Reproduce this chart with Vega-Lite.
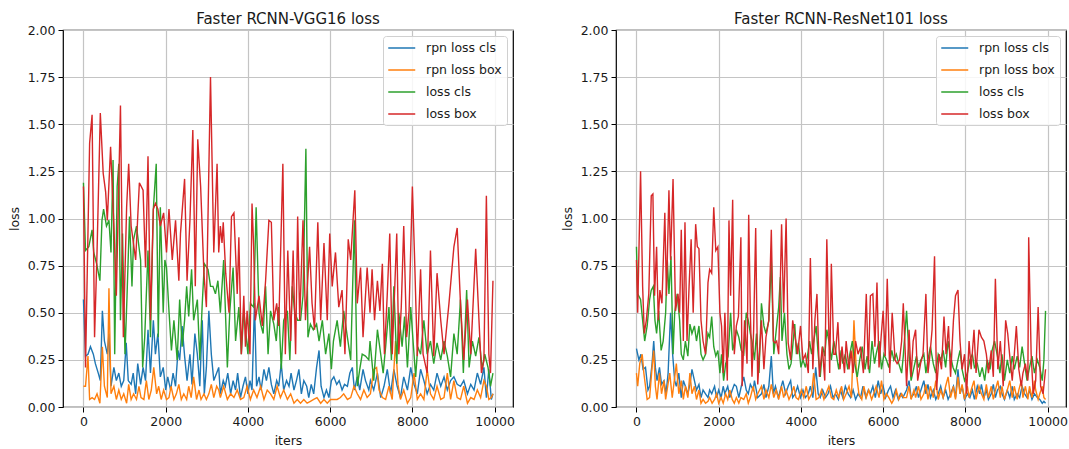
{
"$schema": "https://vega.github.io/schema/vega-lite/v6.json",
"padding": {"left": 7, "top": 11, "right": 0, "bottom": 0},
"background": "white",
"datasets": {
"a1": [{"i":0,"v":0.57},{"i":50,"v":0.27},{"i":110,"v":0.28},{"i":170,"v":0.32},{"i":240,"v":0.28},{"i":290,"v":0.23},{"i":360,"v":0.18},{"i":410,"v":0.14},{"i":460,"v":0.51},{"i":510,"v":0.35},{"i":580,"v":0.28},{"i":620,"v":0.39},{"i":670,"v":0.11},{"i":740,"v":0.21},{"i":800,"v":0.14},{"i":860,"v":0.18},{"i":920,"v":0.11},{"i":980,"v":0.14},{"i":1040,"v":0.34},{"i":1090,"v":0.14},{"i":1160,"v":0.12},{"i":1210,"v":0.18},{"i":1270,"v":0.07},{"i":1320,"v":0.23},{"i":1390,"v":0.12},{"i":1450,"v":0.21},{"i":1510,"v":0.14},{"i":1570,"v":0.41},{"i":1630,"v":0.18},{"i":1700,"v":0.46},{"i":1750,"v":0.28},{"i":1810,"v":0.39},{"i":1870,"v":0.16},{"i":1940,"v":0.21},{"i":2000,"v":0.09},{"i":2050,"v":0.16},{"i":2120,"v":0.09},{"i":2180,"v":0.18},{"i":2240,"v":0.11},{"i":2300,"v":0.3},{"i":2340,"v":0.25},{"i":2400,"v":0.43},{"i":2460,"v":0.27},{"i":2520,"v":0.14},{"i":2590,"v":0.28},{"i":2640,"v":0.12},{"i":2710,"v":0.39},{"i":2770,"v":0.28},{"i":2830,"v":0.11},{"i":2890,"v":0.46},{"i":2940,"v":0.07},{"i":2990,"v":0.21},{"i":3050,"v":0.51},{"i":3110,"v":0.28},{"i":3170,"v":0.14},{"i":3240,"v":0.18},{"i":3290,"v":0.21},{"i":3330,"v":0.07},{"i":3400,"v":0.14},{"i":3450,"v":0.11},{"i":3510,"v":0.18},{"i":3580,"v":0.07},{"i":3640,"v":0.14},{"i":3700,"v":0.09},{"i":3750,"v":0.18},{"i":3820,"v":0.05},{"i":3880,"v":0.11},{"i":3940,"v":0.16},{"i":4000,"v":0.07},{"i":4050,"v":0.14},{"i":4100,"v":0.09},{"i":4160,"v":0.55},{"i":4210,"v":0.11},{"i":4270,"v":0.16},{"i":4320,"v":0.09},{"i":4390,"v":0.2},{"i":4450,"v":0.14},{"i":4510,"v":0.21},{"i":4570,"v":0.12},{"i":4630,"v":0.07},{"i":4700,"v":0.14},{"i":4750,"v":0.11},{"i":4810,"v":0.23},{"i":4870,"v":0.09},{"i":4940,"v":0.14},{"i":5000,"v":0.11},{"i":5050,"v":0.18},{"i":5120,"v":0.09},{"i":5180,"v":0.14},{"i":5240,"v":0.2},{"i":5300,"v":0.07},{"i":5360,"v":0.14},{"i":5430,"v":0.11},{"i":5480,"v":0.05},{"i":5540,"v":0.12},{"i":5600,"v":0.07},{"i":5670,"v":0.21},{"i":5730,"v":0.3},{"i":5780,"v":0.11},{"i":5850,"v":0.05},{"i":5910,"v":0.09},{"i":5970,"v":0.05},{"i":6030,"v":0.14},{"i":6090,"v":0.16},{"i":6160,"v":0.12},{"i":6220,"v":0.14},{"i":6290,"v":0.09},{"i":6350,"v":0.12},{"i":6420,"v":0.11},{"i":6480,"v":0.18},{"i":6540,"v":0.21},{"i":6590,"v":0.09},{"i":6660,"v":0.16},{"i":6720,"v":0.09},{"i":6800,"v":0.2},{"i":6860,"v":0.14},{"i":6940,"v":0.09},{"i":6980,"v":0.14},{"i":7060,"v":0.09},{"i":7150,"v":0.18},{"i":7230,"v":0.05},{"i":7310,"v":0.11},{"i":7390,"v":0.2},{"i":7470,"v":0.07},{"i":7550,"v":0.2},{"i":7630,"v":0.11},{"i":7710,"v":0.05},{"i":7790,"v":0.16},{"i":7880,"v":0.09},{"i":7960,"v":0.21},{"i":8040,"v":0.12},{"i":8120,"v":0.07},{"i":8200,"v":0.2},{"i":8280,"v":0.14},{"i":8360,"v":0.07},{"i":8440,"v":0.12},{"i":8520,"v":0.09},{"i":8600,"v":0.18},{"i":8690,"v":0.11},{"i":8770,"v":0.16},{"i":8850,"v":0.09},{"i":8930,"v":0.14},{"i":9010,"v":0.16},{"i":9090,"v":0.12},{"i":9170,"v":0.11},{"i":9250,"v":0.14},{"i":9340,"v":0.07},{"i":9420,"v":0.12},{"i":9500,"v":0.09},{"i":9580,"v":0.18},{"i":9660,"v":0.12},{"i":9740,"v":0.21},{"i":9800,"v":0.05},{"i":9860,"v":0.2},{"i":9920,"v":0.04},{"i":9960,"v":0.07}],
"a2": [{"i":0,"v":0.11},{"i":50,"v":0.11},{"i":110,"v":0.27},{"i":150,"v":0.04},{"i":210,"v":0.05},{"i":270,"v":0.04},{"i":330,"v":0.07},{"i":400,"v":0.02},{"i":460,"v":0.32},{"i":510,"v":0.11},{"i":580,"v":0.05},{"i":620,"v":0.63},{"i":670,"v":0.07},{"i":740,"v":0.11},{"i":800,"v":0.04},{"i":860,"v":0.09},{"i":920,"v":0.04},{"i":980,"v":0.07},{"i":1050,"v":0.02},{"i":1100,"v":0.12},{"i":1160,"v":0.04},{"i":1220,"v":0.07},{"i":1290,"v":0.04},{"i":1350,"v":0.11},{"i":1400,"v":0.05},{"i":1470,"v":0.04},{"i":1530,"v":0.14},{"i":1590,"v":0.04},{"i":1650,"v":0.09},{"i":1710,"v":0.21},{"i":1780,"v":0.07},{"i":1830,"v":0.11},{"i":1890,"v":0.04},{"i":1950,"v":0.09},{"i":2020,"v":0.04},{"i":2080,"v":0.05},{"i":2130,"v":0.11},{"i":2200,"v":0.04},{"i":2260,"v":0.07},{"i":2320,"v":0.12},{"i":2380,"v":0.04},{"i":2440,"v":0.07},{"i":2510,"v":0.04},{"i":2560,"v":0.11},{"i":2620,"v":0.05},{"i":2680,"v":0.16},{"i":2750,"v":0.04},{"i":2810,"v":0.09},{"i":2860,"v":0.04},{"i":2930,"v":0.07},{"i":2990,"v":0.04},{"i":3050,"v":0.07},{"i":3110,"v":0.12},{"i":3170,"v":0.05},{"i":3240,"v":0.11},{"i":3290,"v":0.09},{"i":3330,"v":0.05},{"i":3410,"v":0.11},{"i":3500,"v":0.04},{"i":3580,"v":0.07},{"i":3660,"v":0.05},{"i":3740,"v":0.09},{"i":3820,"v":0.04},{"i":3900,"v":0.05},{"i":3980,"v":0.11},{"i":4060,"v":0.04},{"i":4140,"v":0.09},{"i":4220,"v":0.05},{"i":4310,"v":0.11},{"i":4390,"v":0.04},{"i":4470,"v":0.09},{"i":4550,"v":0.07},{"i":4630,"v":0.04},{"i":4710,"v":0.11},{"i":4790,"v":0.05},{"i":4870,"v":0.09},{"i":4960,"v":0.04},{"i":5040,"v":0.07},{"i":5120,"v":0.02},{"i":5200,"v":0.04},{"i":5280,"v":0.02},{"i":5360,"v":0.04},{"i":5440,"v":0.02},{"i":5520,"v":0.03},{"i":5600,"v":0.04},{"i":5680,"v":0.05},{"i":5770,"v":0.02},{"i":5850,"v":0.04},{"i":5930,"v":0.02},{"i":6010,"v":0.04},{"i":6090,"v":0.04},{"i":6170,"v":0.04},{"i":6250,"v":0.05},{"i":6330,"v":0.07},{"i":6420,"v":0.04},{"i":6500,"v":0.05},{"i":6580,"v":0.11},{"i":6660,"v":0.07},{"i":6740,"v":0.04},{"i":6820,"v":0.09},{"i":6900,"v":0.05},{"i":6980,"v":0.07},{"i":7060,"v":0.2},{"i":7130,"v":0.21},{"i":7190,"v":0.09},{"i":7270,"v":0.05},{"i":7350,"v":0.04},{"i":7430,"v":0.11},{"i":7510,"v":0.04},{"i":7590,"v":0.35},{"i":7650,"v":0.12},{"i":7710,"v":0.04},{"i":7790,"v":0.09},{"i":7880,"v":0.02},{"i":7960,"v":0.05},{"i":8040,"v":0.18},{"i":8120,"v":0.04},{"i":8200,"v":0.07},{"i":8280,"v":0.04},{"i":8360,"v":0.2},{"i":8440,"v":0.07},{"i":8520,"v":0.04},{"i":8600,"v":0.11},{"i":8690,"v":0.04},{"i":8770,"v":0.05},{"i":8850,"v":0.18},{"i":8930,"v":0.04},{"i":9010,"v":0.14},{"i":9090,"v":0.05},{"i":9170,"v":0.04},{"i":9250,"v":0.11},{"i":9340,"v":0.02},{"i":9420,"v":0.05},{"i":9500,"v":0.04},{"i":9580,"v":0.09},{"i":9660,"v":0.05},{"i":9740,"v":0.14},{"i":9800,"v":0.11},{"i":9860,"v":0.04},{"i":9920,"v":0.05},{"i":9960,"v":0.07}],
"a3": [{"i":0,"v":1.19},{"i":50,"v":0.83},{"i":130,"v":0.85},{"i":210,"v":0.94},{"i":250,"v":0.82},{"i":320,"v":0.76},{"i":400,"v":0.67},{"i":450,"v":0.99},{"i":490,"v":1.05},{"i":560,"v":0.96},{"i":620,"v":0.99},{"i":670,"v":0.82},{"i":720,"v":1.31},{"i":760,"v":0.28},{"i":820,"v":1.17},{"i":860,"v":1.29},{"i":900,"v":0.46},{"i":950,"v":0.92},{"i":1010,"v":0.28},{"i":1060,"v":0.59},{"i":1120,"v":1.01},{"i":1180,"v":0.64},{"i":1220,"v":0.89},{"i":1290,"v":0.96},{"i":1350,"v":0.85},{"i":1390,"v":0.78},{"i":1440,"v":0.21},{"i":1490,"v":0.37},{"i":1570,"v":0.83},{"i":1630,"v":0.37},{"i":1700,"v":1.05},{"i":1770,"v":1.29},{"i":1820,"v":0.37},{"i":1870,"v":1.06},{"i":1940,"v":0.5},{"i":1980,"v":0.78},{"i":2020,"v":0.74},{"i":2080,"v":0.51},{"i":2140,"v":0.3},{"i":2200,"v":0.46},{"i":2280,"v":0.25},{"i":2340,"v":0.57},{"i":2400,"v":0.32},{"i":2460,"v":0.46},{"i":2510,"v":0.64},{"i":2560,"v":0.48},{"i":2630,"v":0.73},{"i":2680,"v":0.46},{"i":2770,"v":0.57},{"i":2830,"v":0.25},{"i":2890,"v":0.55},{"i":2940,"v":0.76},{"i":3030,"v":0.73},{"i":3090,"v":0.64},{"i":3150,"v":0.64},{"i":3210,"v":0.6},{"i":3270,"v":0.67},{"i":3330,"v":0.5},{"i":3410,"v":0.78},{"i":3500,"v":0.21},{"i":3560,"v":0.51},{"i":3640,"v":0.74},{"i":3700,"v":0.35},{"i":3780,"v":0.53},{"i":3840,"v":0.28},{"i":3900,"v":0.51},{"i":4000,"v":0.28},{"i":4060,"v":0.55},{"i":4140,"v":0.53},{"i":4200,"v":1.06},{"i":4270,"v":0.5},{"i":4310,"v":0.44},{"i":4370,"v":0.39},{"i":4430,"v":0.64},{"i":4490,"v":0.28},{"i":4550,"v":0.51},{"i":4630,"v":0.44},{"i":4690,"v":0.35},{"i":4750,"v":0.53},{"i":4810,"v":0.2},{"i":4870,"v":0.46},{"i":4960,"v":0.51},{"i":5020,"v":0.25},{"i":5080,"v":0.64},{"i":5140,"v":0.5},{"i":5210,"v":0.46},{"i":5280,"v":0.46},{"i":5340,"v":0.59},{"i":5410,"v":1.37},{"i":5460,"v":0.37},{"i":5520,"v":0.44},{"i":5590,"v":0.41},{"i":5670,"v":0.44},{"i":5730,"v":0.35},{"i":5810,"v":0.46},{"i":5890,"v":0.28},{"i":5970,"v":0.39},{"i":6030,"v":0.2},{"i":6080,"v":0.35},{"i":6170,"v":0.46},{"i":6250,"v":0.32},{"i":6330,"v":0.51},{"i":6420,"v":0.37},{"i":6500,"v":0.25},{"i":6590,"v":0.99},{"i":6660,"v":0.11},{"i":6720,"v":0.2},{"i":6780,"v":0.28},{"i":6860,"v":0.27},{"i":6940,"v":0.25},{"i":6970,"v":0.35},{"i":7060,"v":0.14},{"i":7150,"v":0.41},{"i":7230,"v":0.28},{"i":7290,"v":0.18},{"i":7350,"v":0.32},{"i":7430,"v":0.53},{"i":7490,"v":0.25},{"i":7550,"v":0.64},{"i":7620,"v":0.23},{"i":7670,"v":0.5},{"i":7750,"v":0.32},{"i":7810,"v":0.48},{"i":7880,"v":0.21},{"i":7960,"v":0.53},{"i":8020,"v":0.34},{"i":8080,"v":0.16},{"i":8130,"v":0.32},{"i":8200,"v":0.28},{"i":8280,"v":0.46},{"i":8360,"v":0.28},{"i":8440,"v":0.35},{"i":8520,"v":0.23},{"i":8600,"v":0.34},{"i":8690,"v":0.25},{"i":8770,"v":0.35},{"i":8850,"v":0.27},{"i":8930,"v":0.16},{"i":9010,"v":0.39},{"i":9090,"v":0.28},{"i":9170,"v":0.57},{"i":9240,"v":0.18},{"i":9320,"v":0.62},{"i":9380,"v":0.21},{"i":9460,"v":0.35},{"i":9540,"v":0.27},{"i":9620,"v":0.37},{"i":9700,"v":0.2},{"i":9760,"v":0.28},{"i":9840,"v":0.21},{"i":9900,"v":0.11},{"i":9960,"v":0.18}],
"a4": [{"i":0,"v":1.17},{"i":50,"v":0.21},{"i":150,"v":1.4},{"i":210,"v":1.55},{"i":270,"v":0.37},{"i":330,"v":0.82},{"i":410,"v":1.56},{"i":480,"v":1.24},{"i":540,"v":1.14},{"i":580,"v":0.99},{"i":660,"v":1.38},{"i":740,"v":0.96},{"i":800,"v":0.59},{"i":900,"v":1.6},{"i":970,"v":0.37},{"i":1050,"v":1.06},{"i":1100,"v":1.29},{"i":1160,"v":0.96},{"i":1270,"v":0.78},{"i":1360,"v":1.19},{"i":1450,"v":1.15},{"i":1510,"v":0.74},{"i":1570,"v":1.33},{"i":1630,"v":0.46},{"i":1700,"v":1.05},{"i":1750,"v":1.08},{"i":1810,"v":1.05},{"i":1870,"v":0.96},{"i":1950,"v":1.03},{"i":2020,"v":0.82},{"i":2080,"v":1.05},{"i":2160,"v":0.78},{"i":2240,"v":0.99},{"i":2320,"v":0.67},{"i":2360,"v":0.92},{"i":2460,"v":1.21},{"i":2520,"v":0.67},{"i":2590,"v":0.99},{"i":2660,"v":1.47},{"i":2720,"v":0.64},{"i":2780,"v":1.42},{"i":2850,"v":1.17},{"i":2930,"v":0.71},{"i":2990,"v":0.53},{"i":3090,"v":1.75},{"i":3170,"v":0.82},{"i":3250,"v":1.29},{"i":3290,"v":0.82},{"i":3330,"v":0.96},{"i":3370,"v":0.87},{"i":3400,"v":0.98},{"i":3460,"v":0.71},{"i":3540,"v":0.5},{"i":3600,"v":1.01},{"i":3660,"v":1.03},{"i":3740,"v":0.6},{"i":3780,"v":0.9},{"i":3840,"v":0.28},{"i":3900,"v":0.59},{"i":3940,"v":0.32},{"i":3980,"v":0.51},{"i":4050,"v":0.28},{"i":4100,"v":1.08},{"i":4140,"v":0.85},{"i":4180,"v":0.46},{"i":4270,"v":0.59},{"i":4350,"v":0.43},{"i":4430,"v":0.67},{"i":4510,"v":0.99},{"i":4570,"v":0.98},{"i":4630,"v":0.46},{"i":4700,"v":0.55},{"i":4750,"v":0.43},{"i":4850,"v":1.29},{"i":4910,"v":0.28},{"i":4970,"v":0.83},{"i":5040,"v":0.35},{"i":5100,"v":0.83},{"i":5160,"v":0.28},{"i":5210,"v":1.01},{"i":5260,"v":0.46},{"i":5340,"v":0.99},{"i":5400,"v":0.46},{"i":5500,"v":0.85},{"i":5560,"v":0.55},{"i":5620,"v":0.41},{"i":5700,"v":0.98},{"i":5770,"v":0.46},{"i":5850,"v":0.87},{"i":5930,"v":0.46},{"i":5990,"v":0.92},{"i":6050,"v":0.64},{"i":6130,"v":0.82},{"i":6210,"v":0.53},{"i":6290,"v":0.62},{"i":6360,"v":0.28},{"i":6440,"v":0.89},{"i":6500,"v":0.78},{"i":6600,"v":1.15},{"i":6660,"v":0.55},{"i":6740,"v":0.74},{"i":6800,"v":0.37},{"i":6900,"v":0.74},{"i":6970,"v":0.5},{"i":7020,"v":0.73},{"i":7080,"v":0.46},{"i":7150,"v":0.67},{"i":7210,"v":0.51},{"i":7270,"v":0.76},{"i":7320,"v":0.28},{"i":7390,"v":0.6},{"i":7450,"v":0.92},{"i":7510,"v":0.28},{"i":7550,"v":0.51},{"i":7620,"v":0.92},{"i":7670,"v":0.28},{"i":7730,"v":0.53},{"i":7790,"v":0.96},{"i":7860,"v":0.37},{"i":7920,"v":0.51},{"i":8000,"v":1.17},{"i":8050,"v":0.82},{"i":8120,"v":0.27},{"i":8200,"v":0.73},{"i":8260,"v":0.28},{"i":8360,"v":0.18},{"i":8440,"v":0.83},{"i":8520,"v":0.27},{"i":8600,"v":0.71},{"i":8690,"v":0.46},{"i":8770,"v":0.28},{"i":8890,"v":0.55},{"i":9010,"v":0.85},{"i":9090,"v":0.95},{"i":9170,"v":0.55},{"i":9250,"v":0.25},{"i":9340,"v":0.57},{"i":9420,"v":0.28},{"i":9540,"v":0.84},{"i":9620,"v":0.46},{"i":9680,"v":0.18},{"i":9740,"v":0.25},{"i":9800,"v":1.12},{"i":9860,"v":0.28},{"i":9900,"v":0.18},{"i":9960,"v":0.67}],
"b1": [{"i":0,"v":0.31},{"i":60,"v":0.25},{"i":110,"v":0.28},{"i":160,"v":0.2},{"i":220,"v":0.21},{"i":280,"v":0.09},{"i":320,"v":0.11},{"i":380,"v":0.23},{"i":420,"v":0.35},{"i":460,"v":0.21},{"i":500,"v":0.14},{"i":560,"v":0.21},{"i":610,"v":0.12},{"i":670,"v":0.14},{"i":720,"v":0.07},{"i":770,"v":0.18},{"i":830,"v":0.5},{"i":880,"v":0.28},{"i":930,"v":0.14},{"i":970,"v":0.11},{"i":1030,"v":0.18},{"i":1090,"v":0.05},{"i":1140,"v":0.14},{"i":1190,"v":0.11},{"i":1250,"v":0.07},{"i":1300,"v":0.12},{"i":1350,"v":0.2},{"i":1410,"v":0.14},{"i":1460,"v":0.09},{"i":1520,"v":0.12},{"i":1570,"v":0.05},{"i":1620,"v":0.09},{"i":1680,"v":0.07},{"i":1740,"v":0.05},{"i":1780,"v":0.09},{"i":1830,"v":0.07},{"i":1900,"v":0.11},{"i":1950,"v":0.05},{"i":2000,"v":0.09},{"i":2060,"v":0.05},{"i":2110,"v":0.11},{"i":2150,"v":0.07},{"i":2220,"v":0.11},{"i":2270,"v":0.05},{"i":2330,"v":0.09},{"i":2380,"v":0.12},{"i":2430,"v":0.11},{"i":2490,"v":0.05},{"i":2550,"v":0.11},{"i":2610,"v":0.16},{"i":2670,"v":0.09},{"i":2720,"v":0.07},{"i":2770,"v":0.12},{"i":2840,"v":0.09},{"i":2870,"v":0.14},{"i":2950,"v":0.05},{"i":3040,"v":0.07},{"i":3100,"v":0.12},{"i":3150,"v":0.05},{"i":3220,"v":0.11},{"i":3280,"v":0.27},{"i":3330,"v":0.07},{"i":3380,"v":0.11},{"i":3450,"v":0.05},{"i":3500,"v":0.09},{"i":3560,"v":0.14},{"i":3630,"v":0.07},{"i":3690,"v":0.11},{"i":3750,"v":0.14},{"i":3800,"v":0.05},{"i":3860,"v":0.07},{"i":3920,"v":0.11},{"i":3990,"v":0.05},{"i":4050,"v":0.09},{"i":4110,"v":0.05},{"i":4180,"v":0.07},{"i":4230,"v":0.11},{"i":4290,"v":0.05},{"i":4360,"v":0.21},{"i":4420,"v":0.07},{"i":4470,"v":0.05},{"i":4530,"v":0.09},{"i":4600,"v":0.05},{"i":4660,"v":0.07},{"i":4720,"v":0.11},{"i":4780,"v":0.05},{"i":4840,"v":0.07},{"i":4910,"v":0.04},{"i":4960,"v":0.09},{"i":5020,"v":0.05},{"i":5080,"v":0.11},{"i":5150,"v":0.07},{"i":5210,"v":0.05},{"i":5270,"v":0.09},{"i":5330,"v":0.04},{"i":5390,"v":0.07},{"i":5450,"v":0.05},{"i":5510,"v":0.11},{"i":5580,"v":0.05},{"i":5640,"v":0.09},{"i":5690,"v":0.07},{"i":5750,"v":0.11},{"i":5810,"v":0.05},{"i":5880,"v":0.14},{"i":5940,"v":0.07},{"i":6000,"v":0.11},{"i":6060,"v":0.05},{"i":6130,"v":0.09},{"i":6180,"v":0.11},{"i":6240,"v":0.05},{"i":6300,"v":0.09},{"i":6370,"v":0.04},{"i":6420,"v":0.07},{"i":6480,"v":0.05},{"i":6570,"v":0.09},{"i":6630,"v":0.14},{"i":6680,"v":0.05},{"i":6750,"v":0.07},{"i":6810,"v":0.11},{"i":6860,"v":0.05},{"i":6920,"v":0.09},{"i":6990,"v":0.14},{"i":7040,"v":0.07},{"i":7090,"v":0.12},{"i":7150,"v":0.05},{"i":7220,"v":0.09},{"i":7280,"v":0.04},{"i":7340,"v":0.07},{"i":7400,"v":0.11},{"i":7460,"v":0.05},{"i":7520,"v":0.09},{"i":7580,"v":0.04},{"i":7640,"v":0.07},{"i":7710,"v":0.11},{"i":7760,"v":0.05},{"i":7820,"v":0.2},{"i":7870,"v":0.07},{"i":7920,"v":0.11},{"i":7980,"v":0.04},{"i":8050,"v":0.07},{"i":8110,"v":0.05},{"i":8170,"v":0.09},{"i":8220,"v":0.04},{"i":8290,"v":0.11},{"i":8350,"v":0.07},{"i":8390,"v":0.12},{"i":8450,"v":0.05},{"i":8510,"v":0.09},{"i":8560,"v":0.04},{"i":8630,"v":0.07},{"i":8680,"v":0.12},{"i":8730,"v":0.05},{"i":8780,"v":0.09},{"i":8850,"v":0.11},{"i":8890,"v":0.07},{"i":8950,"v":0.04},{"i":9020,"v":0.09},{"i":9080,"v":0.05},{"i":9140,"v":0.11},{"i":9190,"v":0.04},{"i":9260,"v":0.07},{"i":9320,"v":0.05},{"i":9380,"v":0.11},{"i":9440,"v":0.07},{"i":9500,"v":0.05},{"i":9560,"v":0.09},{"i":9620,"v":0.04},{"i":9680,"v":0.07},{"i":9750,"v":0.05},{"i":9810,"v":0.04},{"i":9870,"v":0.02},{"i":9910,"v":0.03},{"i":9950,"v":0.02}],
"b2": [{"i":0,"v":0.18},{"i":30,"v":0.11},{"i":80,"v":0.23},{"i":140,"v":0.28},{"i":180,"v":0.18},{"i":220,"v":0.11},{"i":260,"v":0.04},{"i":320,"v":0.05},{"i":380,"v":0.21},{"i":420,"v":0.3},{"i":460,"v":0.11},{"i":500,"v":0.04},{"i":560,"v":0.18},{"i":610,"v":0.07},{"i":670,"v":0.14},{"i":710,"v":0.04},{"i":760,"v":0.11},{"i":810,"v":0.18},{"i":870,"v":0.05},{"i":920,"v":0.14},{"i":970,"v":0.23},{"i":1030,"v":0.07},{"i":1090,"v":0.14},{"i":1140,"v":0.04},{"i":1190,"v":0.11},{"i":1250,"v":0.05},{"i":1300,"v":0.18},{"i":1350,"v":0.07},{"i":1410,"v":0.11},{"i":1460,"v":0.04},{"i":1520,"v":0.09},{"i":1570,"v":0.02},{"i":1620,"v":0.04},{"i":1680,"v":0.02},{"i":1740,"v":0.03},{"i":1780,"v":0.05},{"i":1840,"v":0.02},{"i":1900,"v":0.04},{"i":1950,"v":0.07},{"i":2000,"v":0.02},{"i":2060,"v":0.05},{"i":2110,"v":0.02},{"i":2170,"v":0.07},{"i":2220,"v":0.04},{"i":2270,"v":0.09},{"i":2330,"v":0.04},{"i":2380,"v":0.02},{"i":2430,"v":0.05},{"i":2490,"v":0.02},{"i":2540,"v":0.05},{"i":2610,"v":0.04},{"i":2670,"v":0.07},{"i":2720,"v":0.02},{"i":2770,"v":0.05},{"i":2840,"v":0.11},{"i":2900,"v":0.04},{"i":2950,"v":0.07},{"i":3040,"v":0.11},{"i":3100,"v":0.04},{"i":3150,"v":0.09},{"i":3220,"v":0.05},{"i":3280,"v":0.12},{"i":3340,"v":0.05},{"i":3400,"v":0.09},{"i":3460,"v":0.04},{"i":3530,"v":0.11},{"i":3580,"v":0.05},{"i":3640,"v":0.09},{"i":3710,"v":0.04},{"i":3770,"v":0.07},{"i":3830,"v":0.11},{"i":3880,"v":0.05},{"i":3940,"v":0.04},{"i":4010,"v":0.09},{"i":4070,"v":0.05},{"i":4130,"v":0.11},{"i":4190,"v":0.04},{"i":4260,"v":0.07},{"i":4310,"v":0.18},{"i":4370,"v":0.04},{"i":4440,"v":0.05},{"i":4500,"v":0.09},{"i":4560,"v":0.04},{"i":4610,"v":0.07},{"i":4680,"v":0.11},{"i":4740,"v":0.05},{"i":4800,"v":0.04},{"i":4860,"v":0.09},{"i":4920,"v":0.05},{"i":4990,"v":0.11},{"i":5040,"v":0.04},{"i":5100,"v":0.07},{"i":5170,"v":0.11},{"i":5230,"v":0.05},{"i":5290,"v":0.46},{"i":5350,"v":0.18},{"i":5410,"v":0.07},{"i":5480,"v":0.04},{"i":5530,"v":0.11},{"i":5590,"v":0.05},{"i":5650,"v":0.09},{"i":5720,"v":0.04},{"i":5770,"v":0.07},{"i":5830,"v":0.11},{"i":5900,"v":0.05},{"i":5960,"v":0.14},{"i":6020,"v":0.04},{"i":6080,"v":0.07},{"i":6140,"v":0.05},{"i":6210,"v":0.02},{"i":6260,"v":0.04},{"i":6320,"v":0.09},{"i":6380,"v":0.04},{"i":6450,"v":0.07},{"i":6500,"v":0.05},{"i":6570,"v":0.05},{"i":6630,"v":0.11},{"i":6680,"v":0.04},{"i":6750,"v":0.09},{"i":6790,"v":0.05},{"i":6860,"v":0.11},{"i":6920,"v":0.04},{"i":6990,"v":0.07},{"i":7040,"v":0.12},{"i":7090,"v":0.04},{"i":7150,"v":0.11},{"i":7220,"v":0.05},{"i":7280,"v":0.14},{"i":7340,"v":0.04},{"i":7400,"v":0.09},{"i":7460,"v":0.05},{"i":7520,"v":0.11},{"i":7580,"v":0.16},{"i":7640,"v":0.05},{"i":7710,"v":0.11},{"i":7760,"v":0.04},{"i":7820,"v":0.16},{"i":7870,"v":0.07},{"i":7920,"v":0.12},{"i":7980,"v":0.04},{"i":8050,"v":0.11},{"i":8090,"v":0.05},{"i":8140,"v":0.09},{"i":8210,"v":0.14},{"i":8260,"v":0.04},{"i":8330,"v":0.11},{"i":8390,"v":0.07},{"i":8450,"v":0.04},{"i":8510,"v":0.12},{"i":8560,"v":0.05},{"i":8630,"v":0.11},{"i":8680,"v":0.04},{"i":8730,"v":0.09},{"i":8790,"v":0.14},{"i":8850,"v":0.05},{"i":8890,"v":0.11},{"i":8950,"v":0.04},{"i":9020,"v":0.09},{"i":9080,"v":0.14},{"i":9140,"v":0.05},{"i":9190,"v":0.11},{"i":9260,"v":0.04},{"i":9300,"v":0.09},{"i":9360,"v":0.14},{"i":9400,"v":0.05},{"i":9460,"v":0.11},{"i":9520,"v":0.04},{"i":9560,"v":0.11},{"i":9620,"v":0.05},{"i":9680,"v":0.14},{"i":9710,"v":0.09},{"i":9770,"v":0.04},{"i":9810,"v":0.07},{"i":9870,"v":0.11},{"i":9910,"v":0.05},{"i":9950,"v":0.04}],
"b3": [{"i":0,"v":0.85},{"i":30,"v":0.6},{"i":100,"v":0.57},{"i":150,"v":0.46},{"i":200,"v":0.35},{"i":260,"v":0.43},{"i":320,"v":0.57},{"i":360,"v":0.62},{"i":410,"v":0.64},{"i":450,"v":0.46},{"i":490,"v":0.39},{"i":540,"v":0.51},{"i":600,"v":0.3},{"i":650,"v":0.35},{"i":710,"v":0.5},{"i":750,"v":0.78},{"i":790,"v":0.6},{"i":840,"v":0.8},{"i":890,"v":0.28},{"i":930,"v":0.5},{"i":990,"v":0.6},{"i":1050,"v":0.46},{"i":1090,"v":0.28},{"i":1140,"v":0.25},{"i":1190,"v":0.35},{"i":1250,"v":0.27},{"i":1300,"v":0.44},{"i":1350,"v":0.39},{"i":1410,"v":0.43},{"i":1460,"v":0.35},{"i":1520,"v":0.43},{"i":1570,"v":0.28},{"i":1620,"v":0.25},{"i":1680,"v":0.28},{"i":1740,"v":0.39},{"i":1780,"v":0.37},{"i":1830,"v":0.48},{"i":1880,"v":0.32},{"i":1930,"v":0.27},{"i":1980,"v":0.3},{"i":2030,"v":0.18},{"i":2070,"v":0.28},{"i":2120,"v":0.14},{"i":2170,"v":0.23},{"i":2230,"v":0.27},{"i":2290,"v":0.5},{"i":2340,"v":0.3},{"i":2390,"v":0.35},{"i":2430,"v":0.41},{"i":2490,"v":0.37},{"i":2550,"v":0.3},{"i":2610,"v":0.28},{"i":2670,"v":0.5},{"i":2720,"v":0.46},{"i":2770,"v":0.39},{"i":2810,"v":0.35},{"i":2870,"v":0.25},{"i":2920,"v":0.39},{"i":2980,"v":0.18},{"i":3040,"v":0.55},{"i":3100,"v":0.43},{"i":3150,"v":0.39},{"i":3220,"v":0.46},{"i":3280,"v":0.78},{"i":3340,"v":0.28},{"i":3400,"v":0.41},{"i":3460,"v":0.53},{"i":3500,"v":0.69},{"i":3540,"v":0.35},{"i":3600,"v":0.5},{"i":3660,"v":0.28},{"i":3710,"v":0.2},{"i":3760,"v":0.23},{"i":3800,"v":0.32},{"i":3850,"v":0.44},{"i":3890,"v":0.28},{"i":3940,"v":0.34},{"i":4000,"v":0.21},{"i":4050,"v":0.25},{"i":4110,"v":0.21},{"i":4160,"v":0.27},{"i":4210,"v":0.35},{"i":4260,"v":0.28},{"i":4310,"v":0.35},{"i":4370,"v":0.43},{"i":4420,"v":0.28},{"i":4470,"v":0.16},{"i":4530,"v":0.32},{"i":4580,"v":0.27},{"i":4630,"v":0.41},{"i":4680,"v":0.35},{"i":4740,"v":0.25},{"i":4800,"v":0.35},{"i":4860,"v":0.28},{"i":4920,"v":0.2},{"i":4980,"v":0.3},{"i":5020,"v":0.23},{"i":5080,"v":0.28},{"i":5140,"v":0.2},{"i":5190,"v":0.28},{"i":5250,"v":0.35},{"i":5310,"v":0.23},{"i":5370,"v":0.16},{"i":5430,"v":0.25},{"i":5490,"v":0.32},{"i":5560,"v":0.2},{"i":5610,"v":0.27},{"i":5670,"v":0.18},{"i":5730,"v":0.35},{"i":5790,"v":0.23},{"i":5830,"v":0.28},{"i":5900,"v":0.35},{"i":5960,"v":0.2},{"i":6020,"v":0.28},{"i":6080,"v":0.25},{"i":6140,"v":0.21},{"i":6210,"v":0.3},{"i":6260,"v":0.25},{"i":6320,"v":0.28},{"i":6380,"v":0.23},{"i":6450,"v":0.18},{"i":6490,"v":0.27},{"i":6570,"v":0.51},{"i":6630,"v":0.28},{"i":6680,"v":0.14},{"i":6750,"v":0.21},{"i":6810,"v":0.27},{"i":6860,"v":0.21},{"i":6920,"v":0.25},{"i":6990,"v":0.28},{"i":7040,"v":0.18},{"i":7090,"v":0.25},{"i":7150,"v":0.32},{"i":7220,"v":0.23},{"i":7280,"v":0.18},{"i":7340,"v":0.28},{"i":7400,"v":0.25},{"i":7460,"v":0.3},{"i":7520,"v":0.21},{"i":7580,"v":0.35},{"i":7640,"v":0.27},{"i":7700,"v":0.21},{"i":7760,"v":0.18},{"i":7820,"v":0.25},{"i":7870,"v":0.3},{"i":7920,"v":0.2},{"i":7980,"v":0.14},{"i":8050,"v":0.18},{"i":8110,"v":0.25},{"i":8170,"v":0.28},{"i":8220,"v":0.21},{"i":8290,"v":0.23},{"i":8350,"v":0.16},{"i":8410,"v":0.21},{"i":8470,"v":0.14},{"i":8530,"v":0.25},{"i":8600,"v":0.2},{"i":8650,"v":0.3},{"i":8710,"v":0.35},{"i":8780,"v":0.27},{"i":8840,"v":0.18},{"i":8890,"v":0.28},{"i":8950,"v":0.14},{"i":9020,"v":0.25},{"i":9080,"v":0.18},{"i":9140,"v":0.27},{"i":9190,"v":0.2},{"i":9260,"v":0.27},{"i":9320,"v":0.21},{"i":9380,"v":0.32},{"i":9440,"v":0.23},{"i":9500,"v":0.14},{"i":9560,"v":0.21},{"i":9620,"v":0.27},{"i":9680,"v":0.18},{"i":9750,"v":0.25},{"i":9810,"v":0.21},{"i":9870,"v":0.14},{"i":9910,"v":0.25},{"i":9950,"v":0.51}],
"b4": [{"i":0,"v":0.78},{"i":30,"v":0.5},{"i":100,"v":1.25},{"i":150,"v":0.64},{"i":190,"v":0.39},{"i":240,"v":0.46},{"i":300,"v":0.6},{"i":360,"v":1.12},{"i":400,"v":1.13},{"i":440,"v":0.59},{"i":490,"v":0.85},{"i":530,"v":0.46},{"i":570,"v":0.62},{"i":620,"v":0.55},{"i":690,"v":1.03},{"i":730,"v":0.59},{"i":790,"v":1.15},{"i":830,"v":0.78},{"i":890,"v":1.21},{"i":950,"v":0.51},{"i":1010,"v":0.6},{"i":1050,"v":0.5},{"i":1090,"v":0.94},{"i":1140,"v":0.35},{"i":1180,"v":0.98},{"i":1230,"v":0.35},{"i":1280,"v":0.64},{"i":1330,"v":0.89},{"i":1380,"v":0.5},{"i":1440,"v":0.97},{"i":1480,"v":0.85},{"i":1520,"v":0.84},{"i":1570,"v":0.46},{"i":1620,"v":0.35},{"i":1680,"v":0.28},{"i":1740,"v":0.66},{"i":1780,"v":0.73},{"i":1830,"v":0.71},{"i":1880,"v":1.06},{"i":1930,"v":0.83},{"i":1980,"v":0.85},{"i":2030,"v":0.5},{"i":2070,"v":0.43},{"i":2110,"v":0.18},{"i":2150,"v":0.5},{"i":2210,"v":0.14},{"i":2250,"v":0.99},{"i":2290,"v":0.59},{"i":2340,"v":1.1},{"i":2380,"v":0.28},{"i":2430,"v":0.43},{"i":2480,"v":0.48},{"i":2540,"v":0.9},{"i":2570,"v":0.11},{"i":2630,"v":0.46},{"i":2690,"v":0.23},{"i":2730,"v":1.02},{"i":2770,"v":0.5},{"i":2810,"v":0.16},{"i":2850,"v":0.41},{"i":2900,"v":0.95},{"i":2950,"v":0.12},{"i":3040,"v":0.46},{"i":3100,"v":0.2},{"i":3150,"v":0.37},{"i":3220,"v":0.46},{"i":3280,"v":0.94},{"i":3330,"v":0.35},{"i":3370,"v":0.34},{"i":3410,"v":0.35},{"i":3460,"v":0.28},{"i":3530,"v":0.97},{"i":3580,"v":0.5},{"i":3640,"v":1.0},{"i":3690,"v":0.34},{"i":3750,"v":0.25},{"i":3800,"v":0.46},{"i":3860,"v":0.37},{"i":3920,"v":0.28},{"i":3990,"v":0.43},{"i":4050,"v":0.25},{"i":4110,"v":0.28},{"i":4180,"v":0.18},{"i":4230,"v":0.79},{"i":4290,"v":0.2},{"i":4340,"v":0.46},{"i":4390,"v":0.6},{"i":4450,"v":0.16},{"i":4520,"v":0.32},{"i":4580,"v":0.14},{"i":4630,"v":0.89},{"i":4700,"v":0.18},{"i":4740,"v":0.76},{"i":4800,"v":0.28},{"i":4840,"v":0.28},{"i":4900,"v":0.45},{"i":4950,"v":0.2},{"i":5000,"v":0.32},{"i":5060,"v":0.18},{"i":5100,"v":0.35},{"i":5170,"v":0.2},{"i":5220,"v":0.3},{"i":5270,"v":0.18},{"i":5330,"v":0.35},{"i":5390,"v":0.28},{"i":5450,"v":0.32},{"i":5520,"v":0.18},{"i":5590,"v":0.6},{"i":5640,"v":0.2},{"i":5690,"v":0.59},{"i":5750,"v":0.6},{"i":5800,"v":0.32},{"i":5850,"v":0.66},{"i":5900,"v":0.21},{"i":5950,"v":0.37},{"i":6000,"v":0.51},{"i":6050,"v":0.27},{"i":6100,"v":0.68},{"i":6160,"v":0.18},{"i":6220,"v":0.5},{"i":6290,"v":0.25},{"i":6340,"v":0.23},{"i":6400,"v":0.25},{"i":6450,"v":0.35},{"i":6490,"v":0.55},{"i":6570,"v":0.11},{"i":6630,"v":0.41},{"i":6680,"v":0.16},{"i":6730,"v":0.35},{"i":6790,"v":0.41},{"i":6840,"v":0.14},{"i":6910,"v":0.23},{"i":6970,"v":0.28},{"i":7040,"v":0.6},{"i":7090,"v":0.18},{"i":7140,"v":0.28},{"i":7190,"v":0.41},{"i":7250,"v":0.8},{"i":7300,"v":0.09},{"i":7360,"v":0.28},{"i":7420,"v":0.2},{"i":7480,"v":0.48},{"i":7530,"v":0.28},{"i":7590,"v":0.43},{"i":7640,"v":0.16},{"i":7710,"v":0.46},{"i":7760,"v":0.59},{"i":7820,"v":0.62},{"i":7870,"v":0.35},{"i":7920,"v":0.2},{"i":7980,"v":0.28},{"i":8030,"v":0.07},{"i":8090,"v":0.35},{"i":8140,"v":0.2},{"i":8210,"v":0.41},{"i":8260,"v":0.18},{"i":8330,"v":0.41},{"i":8390,"v":0.37},{"i":8450,"v":0.35},{"i":8510,"v":0.28},{"i":8560,"v":0.18},{"i":8630,"v":0.3},{"i":8680,"v":0.16},{"i":8730,"v":0.68},{"i":8790,"v":0.2},{"i":8850,"v":0.35},{"i":8920,"v":0.11},{"i":8980,"v":0.46},{"i":9030,"v":0.39},{"i":9080,"v":0.27},{"i":9140,"v":0.14},{"i":9190,"v":0.28},{"i":9240,"v":0.43},{"i":9300,"v":0.2},{"i":9360,"v":0.11},{"i":9400,"v":0.18},{"i":9460,"v":0.23},{"i":9520,"v":0.14},{"i":9540,"v":0.9},{"i":9600,"v":0.28},{"i":9650,"v":0.07},{"i":9710,"v":0.14},{"i":9770,"v":0.53},{"i":9830,"v":0.11},{"i":9890,"v":0.07},{"i":9950,"v":0.2}]
},
"hconcat": [
{
"width": 450, "height": 377,
"title": {"text": "Faster RCNN-VGG16 loss"},
"encoding": {
"x": {"field": "i", "type": "quantitative", "scale": {"domain": [-497.5, 10447.5], "nice": false, "zero": false}, "axis": {"values": [0, 2000, 4000, 6000, 8000, 10000], "format": "d", "title": "iters"}},
"y": {"field": "v", "type": "quantitative", "scale": {"domain": [0, 2], "nice": false}, "axis": {"values": [0, 0.25, 0.5, 0.75, 1, 1.25, 1.5, 1.75, 2], "format": ".2f", "title": "loss"}}
},
"layer": [
{"data": {"name": "a1"}, "mark": {"type": "line", "strokeWidth": 1.4, "clip": true}, "encoding": {"color": {"datum": "rpn loss cls", "type": "nominal", "scale": {"domain": ["rpn loss cls", "rpn loss box", "\u00a0loss cls", "loss box"], "range": ["#1f77b4", "#ff7f0e", "#2ca02c", "#d62728"]}, "legend": {"title": null}}}},
{"data": {"name": "a2"}, "mark": {"type": "line", "strokeWidth": 1.4, "clip": true}, "encoding": {"color": {"datum": "rpn loss box", "type": "nominal"}}},
{"data": {"name": "a3"}, "mark": {"type": "line", "strokeWidth": 1.4, "clip": true}, "encoding": {"color": {"datum": "\u00a0loss cls", "type": "nominal"}}},
{"data": {"name": "a4"}, "mark": {"type": "line", "strokeWidth": 1.4, "clip": true}, "encoding": {"color": {"datum": "loss box", "type": "nominal"}}}
]
},
{
"width": 450, "height": 377,
"title": {"text": "Faster RCNN-ResNet101 loss"},
"encoding": {
"x": {"field": "i", "type": "quantitative", "scale": {"domain": [-497.5, 10447.5], "nice": false, "zero": false}, "axis": {"values": [0, 2000, 4000, 6000, 8000, 10000], "format": "d", "title": "iters"}},
"y": {"field": "v", "type": "quantitative", "scale": {"domain": [0, 2], "nice": false}, "axis": {"values": [0, 0.25, 0.5, 0.75, 1, 1.25, 1.5, 1.75, 2], "format": ".2f", "title": "loss"}}
},
"layer": [
{"data": {"name": "b1"}, "mark": {"type": "line", "strokeWidth": 1.4, "clip": true}, "encoding": {"color": {"datum": "rpn loss cls", "type": "nominal", "scale": {"domain": ["rpn loss cls", "rpn loss box", "\u00a0loss cls", "loss box"], "range": ["#1f77b4", "#ff7f0e", "#2ca02c", "#d62728"]}, "legend": {"title": null}}}},
{"data": {"name": "b2"}, "mark": {"type": "line", "strokeWidth": 1.4, "clip": true}, "encoding": {"color": {"datum": "rpn loss box", "type": "nominal"}}},
{"data": {"name": "b3"}, "mark": {"type": "line", "strokeWidth": 1.4, "clip": true}, "encoding": {"color": {"datum": "\u00a0loss cls", "type": "nominal"}}},
{"data": {"name": "b4"}, "mark": {"type": "line", "strokeWidth": 1.4, "clip": true}, "encoding": {"color": {"datum": "loss box", "type": "nominal"}}}
]
}
],
"spacing": 44,
"resolve": {"scale": {"color": "independent"}, "legend": {"color": "independent"}},
"config": {
"font": "DejaVu Sans",
"view": {"stroke": "#000", "strokeWidth": 1.2},
"axis": {"domain": false, "grid": true, "gridColor": "#c4c4c4", "gridWidth": 1.2, "tickColor": "#000", "tickSize": 5, "tickWidth": 1, "labelColor": "#1a1a1a", "labelFontSize": 12.5, "labelPadding": 3, "titleFontSize": 12.5, "titleFontWeight": "normal", "titleColor": "#1a1a1a", "labelFlush": false},
"axisY": {"titlePadding": 6},
"axisX": {"titlePadding": 7},
"title": {"fontSize": 15, "fontWeight": "normal", "color": "#1a1a1a", "anchor": "middle", "offset": -3},
"legend": {"orient": "top-right", "offset": 6, "symbolType": "M-1,0H3", "symbolSize": 182, "symbolStrokeWidth": 1.5, "labelFontSize": 12.5, "labelColor": "#1a1a1a", "labelOffset": 23.5, "padding": 4.5, "rowPadding": 8, "fillColor": "rgba(255,255,255,0.85)", "strokeColor": "#d0d0d0", "cornerRadius": 3}
}
}
